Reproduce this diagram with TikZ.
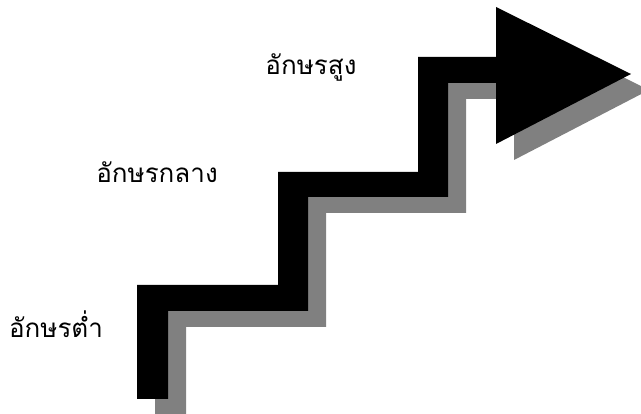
\documentclass[tikz,border=0pt]{standalone}
\usepackage{fontspec}
\newfontfamily\thaifont[Script=Thai]{Loma}
\usetikzlibrary{positioning}

\begin{document}
\begin{tikzpicture}[x=1pt, y=-1pt,
  lbl/.style={font=\thaifont\fontsize{26}{30}\selectfont, inner sep=0pt, anchor=base}
]
  \clip (0,0) rectangle (641,414);
  \fill[white] (0,0) rectangle (641,414);
  % shadow first, then the black stairs
  \foreach \dx/\dy/\col in {18/16/gray, 0/0/black}
    \fill[\col, shift={(\dx,\dy)}] (137,399) -- (137,285) -- (278,285) -- (278,172)
      -- (418,172) -- (418,57) -- (496,57) -- (496,7) -- (631,74) -- (496,144)
      -- (496,83) -- (448,83) -- (448,197) -- (308,197) -- (308,311)
      -- (168,311) -- (168,399) -- cycle;
  \node[lbl] (low)  at (56,338)  {อักษรต่ำ};
  \node[lbl] (mid)  at (157,183) {อักษรกลาง};
  \node[lbl] (high) at (311,75)  {อักษรสูง};
\end{tikzpicture}
\end{document}
